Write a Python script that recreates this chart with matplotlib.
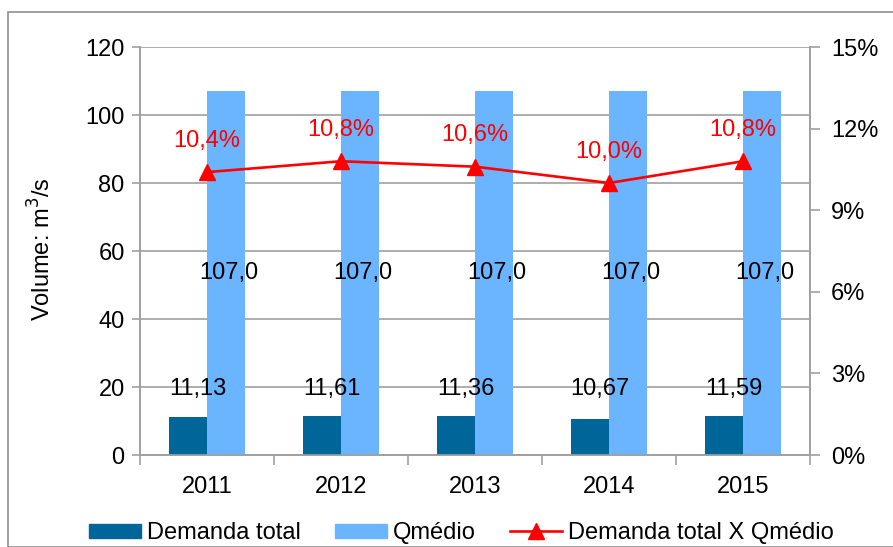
import matplotlib
matplotlib.use("Agg")
import matplotlib.pyplot as plt
import numpy as np
from matplotlib.patches import Rectangle
from matplotlib.lines import Line2D
from matplotlib.patches import Patch

years = ["2011", "2012", "2013", "2014", "2015"]
demanda_total = [11.13, 11.61, 11.36, 10.67, 11.59]
qmedio = [107.0, 107.0, 107.0, 107.0, 107.0]
razao_pct = [10.4, 10.8, 10.6, 10.0, 10.8]
demanda_labels = ["11,13", "11,61", "11,36", "10,67", "11,59"]
qmedio_labels = ["107,0", "107,0", "107,0", "107,0", "107,0"]
razao_labels = ["10,4%", "10,8%", "10,6%", "10,0%", "10,8%"]

plt.rcParams['font.family'] = ['Liberation Sans', 'DejaVu Sans']

W, H = 893, 547
FS = 17
fig = plt.figure(figsize=(W / 100, H / 100), dpi=100)
ax = fig.add_axes([140 / W, 1 - 455 / H, 670 / W, 408 / H])
ax2 = ax.twinx()

dark = "#00669A"
light = "#6BB4FF"
red = "#FF0000"
grid = "#A0A0A0"

x = np.arange(len(years))
bw = 0.28
ax.bar(x - bw / 2, demanda_total, width=bw, color=dark, zorder=3)
ax.bar(x + bw / 2, qmedio, width=bw, color=light, zorder=3)

ax.set_xlim(-0.5, len(years) - 0.5)
ax.set_ylim(0, 120)
ax.set_yticks(np.arange(0, 121, 20))
ax.yaxis.grid(True, color=grid, linewidth=1.2, zorder=0)
ax.set_axisbelow(True)

ax.set_xticks(x)
ax.set_xticklabels(years, fontsize=FS)
ax.tick_params(axis='x', length=0, pad=15)
ax.set_xticks(np.arange(-0.5, len(years), 1), minor=True)
ax.tick_params(axis='x', which='minor', length=7, color=grid, width=1.2)
ax.tick_params(axis='y', labelsize=FS, length=6, color=grid, width=1.2, pad=5)
ax.set_ylabel("Volume: m$^3$/s", fontsize=FS)
ax.yaxis.set_label_coords(-0.126, 0.505)

for s in ['top']:
    ax.spines[s].set_visible(False)
    ax2.spines[s].set_visible(False)
for s in ['left', 'bottom', 'right']:
    ax.spines[s].set_color(grid)
    ax.spines[s].set_linewidth(1.2)
    ax2.spines[s].set_color(grid)
    ax2.spines[s].set_linewidth(1.2)

for i in range(len(years)):
    ax.text(x[i] + bw / 2 + 0.02, qmedio[i] / 2, qmedio_labels[i], ha='center', va='center',
            fontsize=FS, zorder=5)
    ax.text(x[i] - bw / 2 + 0.07, 19.5, demanda_labels[i], ha='center', va='center',
            fontsize=FS, zorder=5)

ax2.set_ylim(0, 15)
ax2.set_yticks(np.arange(0, 16, 3))
ax2.set_yticklabels([f"{v}%" for v in range(0, 16, 3)])
ax2.tick_params(axis='y', labelsize=FS, length=7, color=grid, width=1.2, pad=8)
ax2.plot(x, razao_pct, color=red, linewidth=1.9, marker='^', markersize=11, zorder=6)
for i in range(len(years)):
    ax2.annotate(razao_labels[i], (x[i], razao_pct[i]), xytext=(0, 22.5), textcoords='offset points',
                 ha='center', va='center', color=red, fontsize=FS, zorder=7)
ax2.set_zorder(ax.get_zorder() + 1)
ax2.patch.set_visible(False)

handles = [Patch(color=dark), Patch(color=light),
           Line2D([0], [0], color=red, linewidth=1.9, marker='^', markersize=11)]
labels = ["Demanda total", "Qmédio", "Demanda total X Qmédio"]
fig.legend(handles, labels, loc='center', bbox_to_anchor=(461 / W, 1 - 533 / H), ncol=3,
           frameon=False, fontsize=FS, handlelength=2.2, handletextpad=0.25, columnspacing=1.45,
           handleheight=0.55, borderpad=0, borderaxespad=0)

fig.patches.append(Rectangle((8 / W, 0), 1.0, 1 - 12 / H, transform=fig.transFigure,
                             fill=False, edgecolor="#909090", linewidth=1.2))

fig.savefig("out.png", dpi=100)
